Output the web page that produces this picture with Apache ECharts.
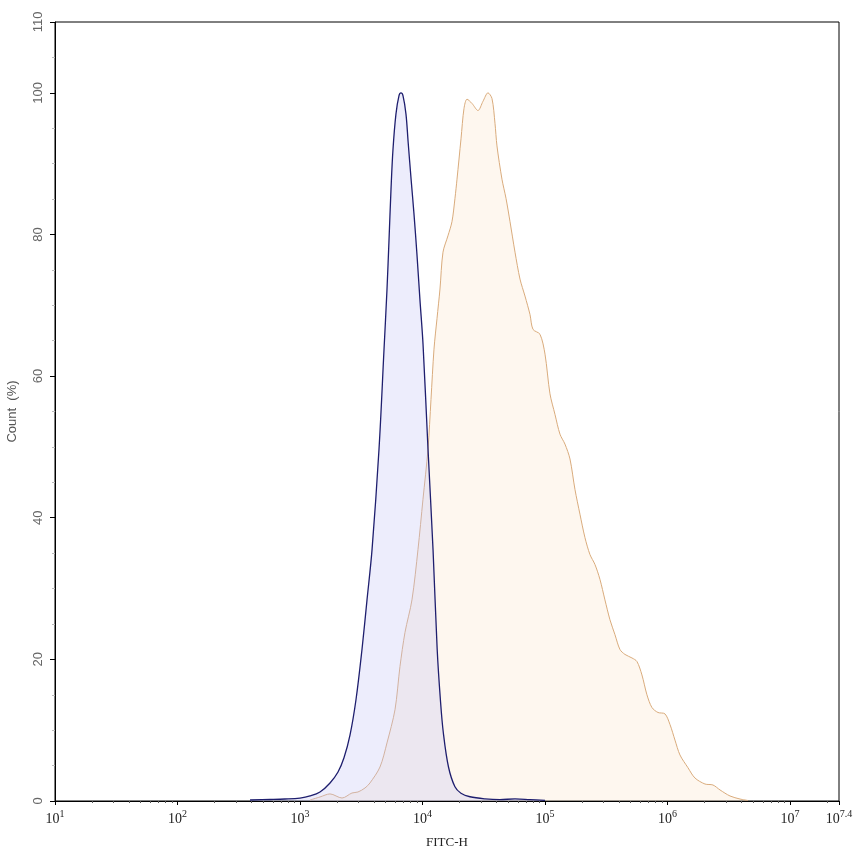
<!DOCTYPE html>
<html>
<head>
<meta charset="utf-8">
<script src="https://cdn.jsdelivr.net/npm/echarts@6/dist/echarts.min.js"></script>
<style>
html,body{margin:0;padding:0;background:#fff;}
#chart{width:853px;height:856px;}
</style>
</head>
<body>
<div id="chart"></div>
<script>
// Control (blue) histogram: FITC-H intensity and Count (%)
var blueX = [391, 569, 755, 1000, 1208, 1456, 1758, 2043, 2286, 2559, 2864, 3206, 3524, 3873, 4416, 4852, 5129, 5331, 5533, 5742, 6070, 6430, 6673, 6929, 7330, 7630, 8070, 8520, 9000, 9520, 10100, 11090, 12190, 13180, 14000, 14800, 16300, 18400, 20600, 24400, 32400, 42900, 56900, 75500, 100000];
var blueY = [0.14, 0.21, 0.28, 0.42, 0.71, 1.27, 2.55, 4.1, 6.1, 9.3, 14.3, 21.4, 28.4, 35.5, 49.7, 63.8, 72.2, 79.3, 86.4, 92.0, 97.0, 99.6, 100, 99.6, 97.0, 93.1, 87.8, 82.9, 77.3, 70.9, 64.5, 49.7, 35.5, 21.4, 14.3, 9.6, 4.8, 2.0, 1.1, 0.6, 0.3, 0.2, 0.3, 0.2, 0.1];

// Stained (orange) histogram
var orangeX = [1208, 1456, 1758, 2203, 2656, 2972, 3394, 3727, 4497, 5129, 5964, 6549, 7194, 8204, 9186, 10090, 11090, 11730, 12410, 13130, 13890, 14700, 16130, 17400, 18410, 19130, 20620, 21820, 23090, 25350, 28380, 31170, 34240, 36910, 39060, 40550, 44540, 48050, 51810, 56900, 62500, 68650, 75410, 79800, 91030, 100000, 109800, 120600, 132500, 145500, 159900, 175600, 192900, 211900, 232800, 255700, 280900, 308500, 338900, 372300, 409000, 449300, 512600, 563000, 618500, 679400, 746400, 836000, 954000, 1048000, 1151000, 1264000, 1469000, 1675000, 2022000, 2350000, 2683000, 3238000, 3908000, 4540000];
var orangeY = [0.14, 0.57, 1.0, 0.42, 1.13, 1.27, 1.84, 2.55, 4.8, 8.2, 12.9, 19.0, 23.8, 28.4, 35.5, 42.6, 49.7, 56.7, 63.8, 68.1, 72.3, 77.5, 79.8, 81.8, 85.1, 87.8, 93.5, 97.8, 99.1, 98.5, 97.5, 98.8, 100, 99.2, 95.7, 92.5, 87.8, 85.1, 81.8, 77.5, 73.7, 71.3, 68.7, 66.6, 65.9, 63.1, 57.5, 54.6, 51.8, 50.4, 48.3, 44.0, 40.5, 37.2, 34.8, 33.4, 31.3, 28.4, 25.6, 23.5, 21.4, 20.7, 20.2, 19.7, 17.8, 15.0, 13.2, 12.5, 12.3, 10.8, 8.6, 6.5, 4.7, 3.25, 2.4, 2.26, 1.56, 0.71, 0.28, 0.07];

// Axis ticks
var xMin = 10;
var xMax = Math.pow(10, 7.4);
var xMajorTicks = [10, 100, 1000, 10000, 100000, 1000000, 10000000, 25118860];
var xMinorTicks = [];
[10, 100, 1000, 10000, 100000, 1000000, 10000000].forEach(function (d) {
  for (var k = 2; k <= 9; k++) { if (d * k < xMax) xMinorTicks.push(d * k); }
});
var yTicks = [0, 20, 40, 60, 80, 100, 110];

function pairs(xs, ys) { return xs.map(function (x, i) { return [x, ys[i]]; }); }

var chart = echarts.init(document.getElementById('chart'), null, { renderer: 'canvas' });
chart.setOption({
  animation: false,
  backgroundColor: '#fff',
  grid: { left: 55, right: 14, top: 22, bottom: 55, containLabel: false, outerBoundsMode: 'none', show: true, borderColor: '#000', borderWidth: 1, backgroundColor: 'transparent' },
  xAxis: [{
    type: 'log', logBase: 10, min: xMin, max: xMax,
    name: 'FITC-H', nameLocation: 'middle', nameGap: 35,
    nameTextStyle: { fontFamily: 'Liberation Serif', fontSize: 13, color: '#222' },
    axisLine: { lineStyle: { color: '#000', width: 1 } },
    axisTick: { show: true, length: 4, lineStyle: { color: '#000' }, customValues: xMajorTicks },
    splitLine: { show: false },
    minorTick: { show: false },
    axisLabel: {
      customValues: xMajorTicks, margin: 8, showMaxLabel: true, showMinLabel: true, hideOverlap: false,
      formatter: function (v) {
        var e = Math.round(Math.log10(v) * 10) / 10;
        return '{b|10}{s|' + e + '}';
      },
      rich: {
        b: { fontFamily: 'Liberation Serif', fontSize: 14, color: '#222', verticalAlign: 'bottom' },
        s: { fontFamily: 'Liberation Serif', fontSize: 10, color: '#222', verticalAlign: 'bottom', padding: [0, 0, 7, 0] }
      }
    }
  }, {
    type: 'log', logBase: 10, min: xMin, max: xMax, position: 'bottom',
    axisLine: { show: false },
    axisTick: { show: true, length: 2, lineStyle: { color: '#555' }, customValues: xMinorTicks },
    axisLabel: { show: false },
    splitLine: { show: false }
  }],
  yAxis: {
    type: 'value', min: 0, max: 110, interval: 20,
    name: 'Count  (%)', nameLocation: 'middle', nameGap: 36,
    nameTextStyle: { fontFamily: 'Liberation Sans Narrow, Liberation Sans', fontSize: 13, color: '#555' },
    axisLine: { show: true, lineStyle: { color: '#000', width: 1 } },
    axisTick: { show: true, length: 5, lineStyle: { color: '#000' }, customValues: yTicks },
    minorTick: { show: true, splitNumber: 4, length: 3, lineStyle: { color: '#bbb' } },
    splitLine: { show: false },
    axisLabel: {
      customValues: yTicks, rotate: 90, margin: 10,
      fontFamily: 'Liberation Sans Narrow, Liberation Sans', fontSize: 13, color: '#666'
    }
  },
  series: [{
    name: 'Stained', type: 'line', data: pairs(orangeX, orangeY), xAxisIndex: 0,
    smooth: 0.3, showSymbol: false, symbol: 'none',
    lineStyle: { color: '#d9ab7c', width: 1 },
    areaStyle: { color: 'rgba(250,222,190,0.35)' },
    z: 2
  }, {
    name: 'Control', type: 'line', data: pairs(blueX, blueY), xAxisIndex: 0,
    smooth: 0.35, showSymbol: false, symbol: 'none',
    lineStyle: { color: '#1e1e6e', width: 1.3 },
    areaStyle: { color: 'rgba(195,195,245,0.42)' },
    z: 3
  }]
});
</script>
</body>
</html>
